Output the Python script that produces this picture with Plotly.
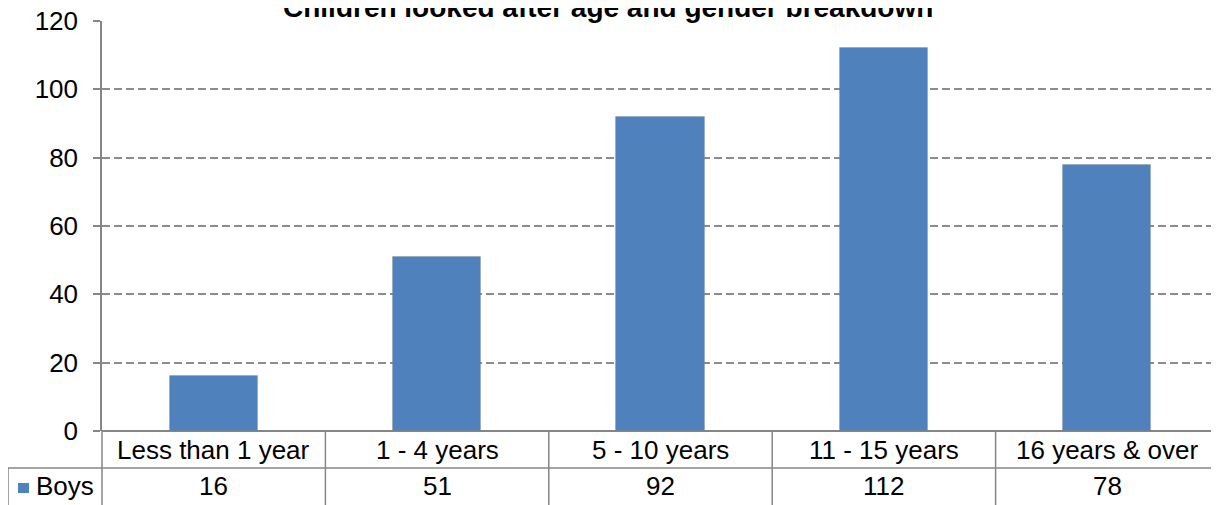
import plotly.graph_objects as go

# data
categories = ["Less than 1 year", "1 - 4 years", "5 - 10 years", "11 - 15 years", "16 years & over"]
boys = [16, 51, 92, 112, 78]
y_ticks = [0, 20, 40, 60, 80, 100, 120]
series_name = "Boys"
title_text = "Children looked after age and gender breakdown"

BAR_COLOR = "#4F81BD"
GRID_COLOR = "#8C8C8C"
AXIS_COLOR = "#868686"
FONT = "Liberation Sans, Arial, sans-serif"

# the page body keeps its default 8px margin, so the figure is drawn 8px in
W, H = 1211, 497
M_L, M_R, M_T, M_B = 94, 0, 13, 74
plot_w = W - M_L - M_R
plot_h = H - M_T - M_B
PAGE_OFFSET = 8


def py_paper(py):
    """Page pixel row (from top of window) -> paper y."""
    return (H - M_B - (py - PAGE_OFFSET)) / plot_h


def px_paper(px):
    """Page pixel column -> paper x."""
    return (px - PAGE_OFFSET - M_L) / plot_w


fig = go.Figure(
    go.Bar(
        x=list(range(len(categories))),
        y=boys,
        name=series_name,
        marker={"color": BAR_COLOR, "line": {"width": 1, "color": "rgba(120,120,120,0.25)"}},
        width=0.395,
        showlegend=False,
    )
)

# data table under the plot
row1 = py_paper(468)
row2 = py_paper(505)
left = px_paper(8)
line = {"color": AXIS_COLOR, "width": 1.5}
shapes = [
    dict(type="line", xref="paper", yref="paper", x0=left, x1=1, y0=row1, y1=row1, line=line),
    dict(type="line", xref="paper", yref="paper", x0=left, x1=left, y0=row1, y1=row2, line=line),
    dict(type="line", xref="paper", yref="paper", x0=0, x1=0, y0=0, y1=row2, line=line),
    # legend key
    dict(type="rect", xref="paper", yref="paper", x0=px_paper(18), x1=px_paper(29),
         y0=py_paper(493), y1=py_paper(483), fillcolor=BAR_COLOR, line={"width": 0}),
]
for i in range(1, len(categories)):
    shapes.append(dict(type="line", xref="x", yref="paper", x0=i - 0.5, x1=i - 0.5,
                       y0=0, y1=row2, line=line))

cell_font = {"size": 26, "color": "#000"}
annotations = []
for i, (cat, val) in enumerate(zip(categories, boys)):
    annotations.append(dict(x=i, y=(0 + row1) / 2, xref="x", yref="paper", text=cat,
                            showarrow=False, font=cell_font, yanchor="middle"))
    annotations.append(dict(x=i, y=(row1 + row2) / 2, xref="x", yref="paper", text=str(val),
                            showarrow=False, font=cell_font, yanchor="middle"))
annotations.append(dict(
    x=px_paper(34), y=(row1 + row2) / 2, xref="paper", yref="paper", xanchor="left",
    yanchor="middle", showarrow=False, text=series_name, font=cell_font,
))
annotations.append(dict(
    x=px_paper(608), y=py_paper(25), xref="paper", yref="paper", xanchor="center",
    yanchor="bottom", showarrow=False, text=f"<b>{title_text}</b>",
    font={"size": 28, "color": "#000"},
))

fig.update_layout(
    width=W,
    height=H,
    margin={"l": M_L, "r": M_R, "t": M_T, "b": M_B, "autoexpand": False},
    paper_bgcolor="white",
    plot_bgcolor="white",
    font={"family": FONT, "color": "#000"},
    bargap=0,
    xaxis={
        "range": [-0.5, len(categories) - 0.5],
        "showticklabels": False,
        "showgrid": False,
        "zeroline": False,
        "ticks": "",
        "fixedrange": True,
    },
    yaxis={
        "range": [0, 120],
        "tickvals": y_ticks,
        "tickfont": {"size": 26},
        "ticklabeloverflow": "allow",
        "ticks": "outside",
        "ticklen": 7,
        "tickwidth": 1.5,
        "tickcolor": AXIS_COLOR,
        "ticklabelstandoff": 10,
        "showline": True,
        "linecolor": AXIS_COLOR,
        "linewidth": 1.5,
        "showgrid": True,
        "gridcolor": GRID_COLOR,
        "griddash": "8px,4px",
        "gridwidth": 1.5,
        "zeroline": True,
        "zerolinecolor": AXIS_COLOR,
        "zerolinewidth": 1.5,
        "automargin": False,
    },
    shapes=shapes,
    annotations=annotations,
)

fig.write_html("out.html")
